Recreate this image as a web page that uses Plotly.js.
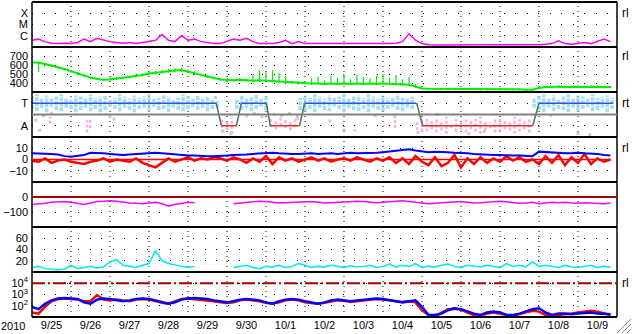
<!DOCTYPE html>
<html><head><meta charset="utf-8">
<script src="https://cdn.plot.ly/plotly-3.0.1.min.js"></script>
<style>html,body{margin:0;padding:0;background:#fff;}#chart{width:633px;height:334px;}</style>
</head><body><div id="chart"></div>
<script>
// ---- time base ----
const startDate = '2010-09-25';
const endDate = '2010-10-10';
const nDays = 15;
const stepHours = 4;        // main series cadence
const cloudStepHours = 3;   // sector-angle cloud cadence

// X-ray flux (units of 1e-7 W/m^2)
const xray = [4,5,3,2.2,2,2.2,2,2.5,5,3, 6,4,3,2.5,2.2,2.5,2,2.5,3,4, 13,4,3,10,4,5,3,2.5,2,2, 3,5,4,6,3,2,2,2,2.5,4,
 2,3,2,2,1.8,2,2,1.8,2,2, 1.8,2,2,1.8,2,2,2.2,3,15,4, 2,1.6,1.5,1.5,1.4,1.5,1.5,1.4,1.5,1.5, 1.4,1.5,1.5,1.5,1.4,1.5,1.6,1.5,1.6,1.8,
 2,3.5,2,1.8,2,2.5,2,3,5,3];
// solar wind speed km/s (typical, max, min within each sample)
const speed = [630,625,610,595,575,555,530,505,480,460, 445,435,440,450,455,465,475,490,505,515, 525,535,540,545,530,510,490,470,455,440,
 435,430,435,430,425,430,425,420,415,410, 405,400,400,395,395,390,395,390,395,390, 395,390,395,390,395,390,390,385,380,360,
 340,335,335,330,330,335,330,330,335,330, 330,335,330,335,330,330,325,325,345,355, 355,360,355,355,360,355,360,360,355,355];
const speedHi = [645,640,625,610,590,570,545,520,495,470, 455,450,460,470,470,480,495,510,530,535, 545,560,565,570,550,530,505,485,470,455,
 450,445,455,445,500,540,520,545,510,480, 425,420,415,450,470,430,480,460,500,440, 490,470,450,480,500,460,490,440,470,390,
 350,345,345,340,345,345,340,340,345,340, 340,345,340,345,340,340,335,335,365,370, 370,375,365,370,375,370,378,375,370,368];
const speedLo = [610,520,595,580,560,540,515,490,465,450, 435,425,425,435,440,450,460,470,485,495, 505,515,520,525,510,490,475,455,440,425,
 420,415,420,415,410,415,410,405,400,395, 390,385,385,380,380,375,380,375,380,375, 380,375,380,375,380,375,375,370,365,345,
 325,320,320,318,318,320,318,318,320,318, 318,320,318,320,318,318,315,315,330,340, 340,345,340,340,345,340,345,345,340,340];
// IMF angle cloud (axis units: T=3, A=1), upper and lower extent per 3-hour sample
const cloudHi = [3.6,3.8,3.5,3.7,3.4,3.6,3.8,3.5,3.3,3.7, 3.6,3.4,3.8,3.5,3.6,3.7,3.3,3.5,3.8,3.6, 3.4,3.7,3.5,3.6,3.8,3.4,3.5,3.7,3.6,3.3,
 3.5,3.8,3.6,3.4,3.7,3.5,3.6,3.4,3.2,1.6, 1.4,1.7,3.4,3.7,3.5,3.6,3.8,3.4,3.6,1.7, 1.5,1.8,1.6,1.4,1.7,3.5,3.7,3.5,3.8,3.6,
 3.4,3.7,3.5,3.6,3.8,3.4,3.6,3.7,3.5,3.8, 3.6,3.4,3.7,3.5,3.6,3.8,3.5,3.4,3.6,1.5, 1.6,1.6,1.4,1.7,1.5,1.8,1.3,1.6,1.5,1.7,
 1.4,1.6,1.8,1.5,1.3,1.7,1.6,1.4,1.5,1.8, 1.6,1.4,1.7,3.4,3.6,3.8,3.5,3.7,3.4,3.6, 3.8,3.5,3.7,3.6,3.4,3.8,3.5,3.6,3.7,3.5];
const cloudLo = [2.5,2.3,2.6,2.2,2.7,2.4,2.3,2.6,2.5,2.2, 2.4,2.6,2.3,2.5,2.2,2.4,2.7,2.5,2.3,2.6, 2.4,2.2,2.5,2.6,2.3,2.7,2.4,2.5,2.2,2.6,
 2.4,2.3,2.5,2.7,2.4,2.6,2.3,2.5,2.6,0.4, 0.6,0.3,2.5,2.4,2.6,2.3,2.5,2.7,2.4,0.9, 0.7,1.0,0.8,0.6,0.9,2.4,2.3,2.5,2.2,2.6,
 2.4,2.3,2.7,2.5,2.2,2.6,2.4,2.3,2.5,2.2, 2.6,2.4,2.3,2.5,2.7,2.4,2.3,2.6,2.5,0.6, 0.5,0.5,0.7,0.4,0.6,0.3,0.8,0.5,0.6,0.4,
 0.7,0.5,0.3,0.6,0.8,0.4,0.5,0.7,0.6,0.3, 0.5,0.7,0.4,2.6,2.4,2.2,2.6,2.3,2.5,2.4, 2.2,2.6,2.3,2.5,2.7,2.3,2.4,2.6,2.2,2.5];
// isolated away-sector specks inside toward sectors
const pinkDay = [0.46,1.41,1.49,6.82,7.64,8.28,9.31];
const pinkHi = [1.8,1.5,1.6,1.9,1.7,0.7,1.5];
const pinkLo = [1.2,0.4,0.8,1.5,1.3,0.5,0.8];
const greyDay = [0.1,0.2,0.3,0.5,2.0,2.1,4.7,4.9,5.0,5.1,5.5,5.7,5.9,6.2,6.4,6.6,6.8,8.0,8.8,9.3,9.9,10.4,11.2,11.6,12.9,13.3,14.0,14.3];
const greyPhi = [1.5,0.6,1.9,2.1,1.8,1.6,3.5,0.5,1.2,0.3,1.9,2.1,1.8,2.0,1.9,2.1,1.8,0.6,1.9,1.8,0.4,2.0,0.3,0.5,2.0,1.9,0.3,0.2];
// sector boundary line (days from start, level)
const sectorDay = [0,4.727,4.855,5.24,5.369,6.01,6.11,6.86,6.99,9.864,10.018,12.84,13.0,14.9];
const sectorVal = [3,3,1,1,3,3,1,1,3,3,1,1,3,3];
// IMF Bt (blue) and Bz (red), nT
const bt = [5.5,5.5,5,5,4.5,3,2.5,3,4,6, 6,5.5,5,4.5,4,4.5,5,5.5,6,6, 5.5,5,4,4,3.5,3.5,3,3,3,3,
 3.5,4,4,4.5,5,5.5,6,6,5.5,5, 5,5,5.5,5.5,5,5.5,5.5,5,5.5,6, 5.5,5.5,6,6,6.5,7,7.5,8.5,9,8,
 7,6.5,7,7,6.5,6,6,5.5,5,4.5, 4,4,4,3.5,3.5,3.5,3,3,7,6.5, 6,5.5,5.5,5.5,6,5.5,5.5,5,4,3.5];
const bz = [-1,-2,1,-3,-1,0,-2,-3,-4,-2, -1,1,-2,0,-1,-2,1,-3,-5,-7, -3,1,-2,0,2,-1,1,0,2,1,
 -1,2,0,-3,1,-2,3,-4,2,-1, 1,-2,0,2,-1,1,-2,0,1,-1, 2,0,-2,1,-1,2,-3,1,-4,3,
 -2,-5,2,-6,-3,4,-7,1,-4,2, -3,1,-2,3,-1,2,-2,0,-4,3, -3,4,-5,2,-3,5,-4,1,-2,0];
// Dst index nT
const dst = [-50,-48,-42,-35,-32,-30,-35,-45,-50,-40, -30,-28,-25,-28,-35,-40,-42,-45,-40,-35, -45,-60,-50,-40,-35,-38,null,null,null,null,
 null,-45,-40,-35,-30,-28,-30,-35,-40,-38, -35,-32,-28,-30,-35,-40,-38,-35,-32,-30, -28,-30,-35,-38,-35,-30,-28,-25,-30,-35,
 -40,-45,-42,-38,-35,-32,-30,-35,-40,-38, -35,-30,-28,-32,-38,-42,-40,-35,-45,-40, -35,-38,-35,-40,-42,-38,-40,-42,-45,-40];
// solar wind density
const dens = [8,10,6,5,4,5,12,6,8,10, 7,9,18,22,12,10,8,12,15,38, 20,15,12,10,8,10,null,null,null,null,
 null,8,10,12,8,6,10,9,12,8, 10,15,12,8,10,9,12,10,8,11, 9,10,12,8,10,14,9,12,10,15,
 8,10,9,12,14,10,8,12,10,9, 12,10,8,15,10,12,9,18,10,12, 10,8,12,9,8,10,12,8,10,9];
// electron flux (two channels)
const eBlue = [80,50,150,300,450,500,450,400,200,150, 350,450,400,300,250,300,400,450,400,300, 200,150,200,350,450,500,450,400,300,250,
 200,250,350,400,350,300,200,150,250,350, 400,350,250,200,150,200,300,350,300,250, 300,350,400,450,400,300,250,200,250,300,
 80,15,15,20,40,60,50,30,20,15, 25,30,25,15,15,20,30,50,60,25, 15,20,20,18,20,22,25,20,20,18];
const eRed = [25,20,80,250,400,450,400,350,250,250, 900,350,300,350,300,250,350,400,350,250, 180,150,250,400,450,400,350,300,250,200,
 180,200,300,350,300,250,180,150,200,300, 350,300,200,180,150,180,250,300,280,220, 250,300,350,400,350,300,250,220,250,200,
 40,15,12,25,50,55,45,25,15,12, 20,25,20,15,12,18,25,35,30,15, 12,15,18,20,25,30,35,30,20,15];
const tickLetters = ['C','M','X'];
const sectorLabels = ['A','T'];
const yearLabel = '2010';

// ---- helpers ----
const T0 = Date.parse(startDate + 'T00:00:00Z');
function fmt(ms){ return new Date(ms).toISOString().slice(0,16).replace('T',' '); }
const times = xray.map((_, i) => fmt(T0 + i * stepHours * 3600e3));
const cloudTimes = cloudHi.map((_, i) => fmt(T0 + i * cloudStepHours * 3600e3));
const dayT = d => fmt(T0 + d * 86400e3);
function segments(xs, lo, hi, keep){
  const x = [], y = [];
  xs.forEach((t, i) => { if (keep(i)) { x.push(t, t, null); y.push(lo[i], hi[i], null); } });
  return {x, y};
}

const FONT = 'Liberation Sans, Arial, sans-serif';
const data = [];
data.push({x: times, y: xray.map(v => v * 1e-7), xaxis:'x', yaxis:'y', mode:'lines', line:{color:'#ff00ff', width:1.5}});
const spd = segments(times, speedLo, speedHi, () => true);
data.push({x: spd.x, y: spd.y, xaxis:'x2', yaxis:'y2', mode:'lines', line:{color:'#00ee00', width:1.2}});
data.push({x: times, y: speed, xaxis:'x2', yaxis:'y2', mode:'lines', line:{color:'#00ee00', width:2}});
// angle cloud
const cT = segments(cloudTimes, cloudLo, cloudHi, i => cloudHi[i] + cloudLo[i] >= 4);
const cA = segments(cloudTimes, cloudLo, cloudHi, i => cloudHi[i] + cloudLo[i] < 4);
const cP = segments(pinkDay.map(dayT), pinkLo, pinkHi, () => true);
data.push({x: cT.x, y: cT.y, xaxis:'x3', yaxis:'y3', mode:'lines', line:{color:'#a0dff6', width:3.5, dash:'4px,1px'}});
data.push({x: cA.x.concat(cP.x), y: cA.y.concat(cP.y), xaxis:'x3', yaxis:'y3', mode:'lines', line:{color:'#f4b0ec', width:2.5, dash:'3px,2px'}});
data.push({x: greyDay.map(dayT), y: greyPhi, xaxis:'x3', yaxis:'y3', mode:'markers', marker:{symbol:'square', size:3, color:'#cccccc'}});
// sector line segments
const segs = {T:{x:[],y:[]}, A:{x:[],y:[]}, X:{x:[],y:[]}};
for (let i = 0; i < sectorDay.length - 1; i++) {
  const a = sectorVal[i], b = sectorVal[i+1];
  const k = (a === 3 && b === 3) ? 'T' : (a === 1 && b === 1) ? 'A' : 'X';
  segs[k].x.push(dayT(sectorDay[i]), dayT(sectorDay[i+1]), null);
  segs[k].y.push(a, b, null);
}
data.push({x: segs.T.x, y: segs.T.y, xaxis:'x3', yaxis:'y3', mode:'lines', line:{color:'#3050e0', width:1.5}});
data.push({x: segs.A.x, y: segs.A.y, xaxis:'x3', yaxis:'y3', mode:'lines', line:{color:'#e03020', width:1.5}});
data.push({x: segs.X.x, y: segs.X.y, xaxis:'x3', yaxis:'y3', mode:'lines', line:{color:'#4a7a4a', width:1.5}});
// Bt, Bz
data.push({x: times, y: bz, xaxis:'x4', yaxis:'y4', mode:'lines', line:{color:'#ff0000', width:2.5}});
data.push({x: times, y: bt, xaxis:'x4', yaxis:'y4', mode:'lines', line:{color:'#0000ff', width:2}});
data.push({x: times, y: dst, xaxis:'x5', yaxis:'y5', mode:'lines', line:{color:'#ff00ff', width:1.5}});
data.push({x: times, y: dens, xaxis:'x6', yaxis:'y6', mode:'lines', line:{color:'#00e8e8', width:1.5}});
data.push({x: times, y: eRed, xaxis:'x7', yaxis:'y7', mode:'lines', line:{color:'#ff0000', width:2.5}});
data.push({x: times, y: eBlue, xaxis:'x7', yaxis:'y7', mode:'lines', line:{color:'#0000ff', width:2.5}});
data.forEach(t => { t.type = 'scatter'; t.showlegend = false; t.hoverinfo = 'skip'; });

const layout = {
  width:633, height:334, margin:{l:32, r:16, t:2, b:17}, paper_bgcolor:'#fff', plot_bgcolor:'#fff',
  showlegend:false, font:{family:FONT, size:11, color:'#000'}, shapes:[], annotations:[]
};
const BASE = {zeroline:false, showline:false, ticks:''};
const yspecs = [
  {type:'log', range:[-7,-3], tickvals:[1e-6,1e-5,1e-4], ticktext:tickLetters},
  {range:[300,800], tickvals:[400,500,600,700]},
  {range:[0,4], tickvals:[1,3], ticktext:sectorLabels},
  {range:[-20,20], tickvals:[-10,0,10]},
  {range:[-200,100], tickvals:[-100,0]},
  {range:[0,80], tickvals:[20,40,60]},
  {type:'log', range:[1,5], tickvals:[100,1000,10000], ticktext:['10<sup>2</sup>','10<sup>3</sup>','10<sup>4</sup>']}
];
for (let k = 1; k <= 7; k++) {
  const sfx = k === 1 ? '' : String(k);
  const lo = (7 - k) / 7, hi = (8 - k) / 7;
  const xa = Object.assign({}, BASE, {
    showgrid:false, domain:[0,1], anchor:'y' + sfx, type:'date', range:[startDate, endDate], tickmode:'linear',
    tick0:startDate, dtick:86400000, showticklabels:k === 7, ticklabelmode:'period', tickformat:'%-m/%-d',
    tickfont:{size:11}, fixedrange:true
  });
  if (k > 1) xa.matches = 'x';
  layout['xaxis' + sfx] = xa;
  layout['yaxis' + sfx] = Object.assign({}, BASE, {showgrid:true, gridcolor:'#000', gridwidth:1, griddash:'1px,10.5px',
    domain:[lo, hi], anchor:'x' + sfx, tickmode:'array', fixedrange:true, tickfont:{size:11}, ticklabelstandoff:3}, yspecs[k-1]);
  layout.shapes.push({type:'line', xref:'paper', yref:'paper', x0:0, x1:1, y0:lo, y1:lo, line:{color:'#000', width:2}});
}
// daily vertical grid lines (day boundaries)
for (let d = 1; d < nDays; d++) {
  layout.shapes.push({type:'line', xref:'x', yref:'paper', x0:dayT(d), x1:dayT(d), y0:0, y1:1, layer:'below',
    line:{color:'#000', width:1, dash:'1px,4px'}});
}
layout.shapes.push({type:'line', xref:'paper', yref:'paper', x0:0, x1:1, y0:1, y1:1, line:{color:'#000', width:2}});
layout.shapes.push({type:'line', xref:'paper', yref:'paper', x0:0, x1:0, y0:0, y1:1, line:{color:'#000', width:1.5}});
layout.shapes.push({type:'line', xref:'paper', yref:'paper', x0:1, x1:1, y0:0, y1:1, line:{color:'#000', width:1.5}});
// reference lines
layout.shapes.push({type:'line', xref:'paper', yref:'y3', x0:0, x1:1, y0:2, y1:2, line:{color:'#808080', width:2}});
layout.shapes.push({type:'line', xref:'x4', yref:'y4', x0:times[0], x1:times[times.length-1], y0:0, y1:0, line:{color:'#ff0000', width:1.5}});
layout.shapes.push({type:'line', xref:'paper', yref:'y5', x0:0, x1:1, y0:0, y1:0, line:{color:'#a00000', width:2}});
layout.shapes.push({type:'line', xref:'paper', yref:'y7', x0:0, x1:1, y0:10000, y1:10000, line:{color:'#a00000', width:2, dash:'13px,3px,2px,3px'}});
// window resize grip (bottom-right corner)
[4, 9, 14].forEach(d => {
  layout.shapes.push({type:'line', xref:'paper', yref:'paper', x0:(631-32-d)/585, y0:-16/315, x1:(631-32)/585, y1:(-16 + d)/315, line:{color:'#888', width:1}});
});
// right labels
[[1,'rl'],[2,'rl'],[3,'rt'],[4,'rl'],[7,'rl']].forEach(([k, txt]) => {
  const sfx = k === 1 ? '' : String(k);
  const ya = layout['yaxis' + sfx];
  const yv = ya.tickvals[ya.tickvals.length - 1];
  layout.annotations.push({text:txt, xref:'paper', x:1, xanchor:'left', xshift:3, yref:'y' + sfx,
    y:(ya.type === 'log' ? Math.log10(yv) : yv), yanchor:'middle', showarrow:false, font:{size:12}});
});
layout.annotations.push({text:yearLabel, xref:'paper', yref:'paper', x:0, y:0, xanchor:'right', yanchor:'top', xshift:-5, yshift:-1, showarrow:false, font:{size:11}});

Plotly.newPlot('chart', data, layout, {staticPlot:true, displayModeBar:false});
</script></body></html>
